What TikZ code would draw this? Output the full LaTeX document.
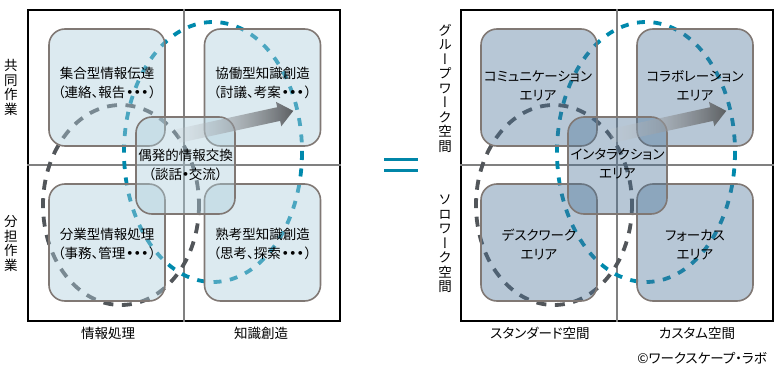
\documentclass[tikz,border=0pt]{standalone}
\usepackage{fontspec}
\usetikzlibrary{fadings}
\setmainfont{Noto Sans CJK JP}[RawFeature={+palt}]
\newfontfamily\vfont{Noto Sans CJK JP}[RawFeature={+vert}]
\definecolor{teal1}{RGB}{0,137,172}
\definecolor{dgray}{RGB}{82,86,90}
\definecolor{midline}{RGB}{128,128,128}
\definecolor{bord}{RGB}{128,120,116}
\definecolor{lfill}{RGB}{174,206,220}
\definecolor{rfill}{RGB}{75,115,152}
\definecolor{arrowR}{RGB}{92,95,98}
\definecolor{arrowL}{RGB}{200,205,210}
\definecolor{eqcol}{RGB}{0,134,168}
\tikzfading[name=arrowfade, left color=transparent!80, right color=transparent!0]
\newcommand{\tdots}{{\bfseries\kern1pt・\kern0.8pt・\kern0.8pt・\kern1pt}}
\begin{document}
\begin{tikzpicture}[x=1pt,y=-1pt,
  box/.style={draw=bord, line width=1.6pt, rounded corners=16pt, minimum width=116pt, minimum height=117pt, inner sep=0pt},
  lbox/.style={box, fill=lfill, fill opacity=0.43},
  rbox/.style={box, fill=rfill, fill opacity=0.4},
  txt/.style={align=center, inner sep=0pt, font=\fontsize{13.5}{19}\selectfont},
  axlab/.style={inner sep=0pt, font=\fontsize{13.5}{16}\selectfont},
  vlab/.style={align=center, inner sep=0pt, font=\vfont\fontsize{13.5}{14.5}\selectfont},
  grayloop/.style={draw=dgray, line width=3.8pt, dash pattern=on 10pt off 8.5pt},
  tealloop/.style={draw=teal1, line width=3.8pt, dash pattern=on 8pt off 8.5pt},
  framebox/.style={draw=black, line width=2pt, minimum width=312pt, minimum height=311.5pt, inner sep=0pt},
  divider/.style={draw=midline, line width=2.2pt},
  eqbar/.style={draw=eqcol, line width=3.5pt},
  arrowshape/.style={left color=arrowL, right color=arrowR, path fading=arrowfade},
]
\useasboundingbox (0,0) rectangle (779,372);

% ---------- frames and dividers ----------
\node[framebox] (LF) at (184,165.25) {};
\node[framebox] (RF) at (617,165.25) {};
\draw[divider] (LF.north) -- (LF.south);
\draw[divider] (LF.west) -- (LF.east);
\draw[divider] (RF.north) -- (RF.south);
\draw[divider] (RF.west) -- (RF.east);

% ---------- dashed loops ----------
\draw[grayloop] (121,205) ellipse [x radius=78, y radius=100];
\draw[tealloop] (213,152) ellipse [x radius=89, y radius=130];
\draw[grayloop] (554,205) ellipse [x radius=78, y radius=100];
\draw[tealloop] (646,152) ellipse [x radius=89, y radius=130];

% ---------- left boxes ----------
\node[lbox] (LTL) at (107,87.5) {};
\node[lbox] (LTR) at (262.5,87.5) {};
\node[lbox] (LBL) at (107,242.5) {};
\node[lbox] (LBR) at (262.5,242.5) {};
\node[lbox, minimum width=99pt, minimum height=97pt] (LC) at (185.5,165.5) {};

% ---------- right boxes ----------
\node[rbox] (RTL) at (539,87.5) {};
\node[rbox] (RTR) at (695,87.5) {};
\node[rbox] (RBL) at (539,242.5) {};
\node[rbox] (RBR) at (695,242.5) {};
\node[rbox, minimum width=99pt, minimum height=97pt] (RC) at (617.5,165.5) {};

% ---------- arrows ----------
\begin{scope}[shift={(178,136)}, rotate=12.3]
\shade[arrowshape] (0,-7) -- (103,-7) -- (103,-12.5) -- (118,0) -- (103,12.5) -- (103,7) -- (0,7) -- cycle;
\end{scope}
\begin{scope}[shift={(611,136)}, rotate=12.3]
\shade[arrowshape] (0,-7) -- (103,-7) -- (103,-12.5) -- (118,0) -- (103,12.5) -- (103,7) -- (0,7) -- cycle;
\end{scope}

% ---------- equals sign ----------
\coordinate (EQ1a) at (384,159.5);
\coordinate (EQ1b) at (418,159.5);
\coordinate (EQ2a) at (384,170.5);
\coordinate (EQ2b) at (418,170.5);
\draw[eqbar] (EQ1a) -- (EQ1b);
\draw[eqbar] (EQ2a) -- (EQ2b);

% ---------- left texts ----------
\node[txt] (tLTL) at (107,82.5) {集合型情報伝達\\（連絡、報告\tdots）};
\node[txt] (tLTR) at (262.5,82.5) {協働型知識創造\\（討議、考案\tdots）};
\node[txt] (tLC) at (185.5,164.5) {偶発的情報交換\\（談話{\bfseries ・}交流）};
\node[txt] (tLBL) at (107,244) {分業型情報処理\\（事務、管理\tdots）};
\node[txt] (tLBR) at (262.5,244) {熟考型知識創造\\（思考、探索\tdots）};

\node[vlab] (vL1) at (11,87.5) {共\\同\\作\\業};
\node[vlab] (vL2) at (11,243.5) {分\\担\\作\\業};
\node[axlab] (hL1) at (108,333) {情報処理};
\node[axlab] (hL2) at (261,333) {知識創造};

% ---------- right texts ----------
\node[txt] (tRTL) at (538,86) {コミュニケーション\\エリア};
\node[txt] (tRTR) at (695,86) {コラボレーション\\エリア};
\node[txt] (tRC) at (617.5,164) {インタラクション\\エリア};
\node[txt] (tRBL) at (539,244.5) {デスクワーク\\エリア};
\node[txt] (tRBR) at (695,244.5) {フォーカス\\エリア};

\node[vlab] (vR1) at (445,88) {グ\\ル\\ー\\プ\\ワ\\ー\\ク\\空\\間};
\node[vlab] (vR2) at (445,244) {ソ\\ロ\\ワ\\ー\\ク\\空\\間};
\node[axlab] (hR1) at (540,333) {スタンダード空間};
\node[axlab] (hR2) at (697,333) {カスタム空間};
\node[axlab, anchor=east] (copy) at (767,358) {©ワークスケープ・ラボ};
\end{tikzpicture}
\end{document}
